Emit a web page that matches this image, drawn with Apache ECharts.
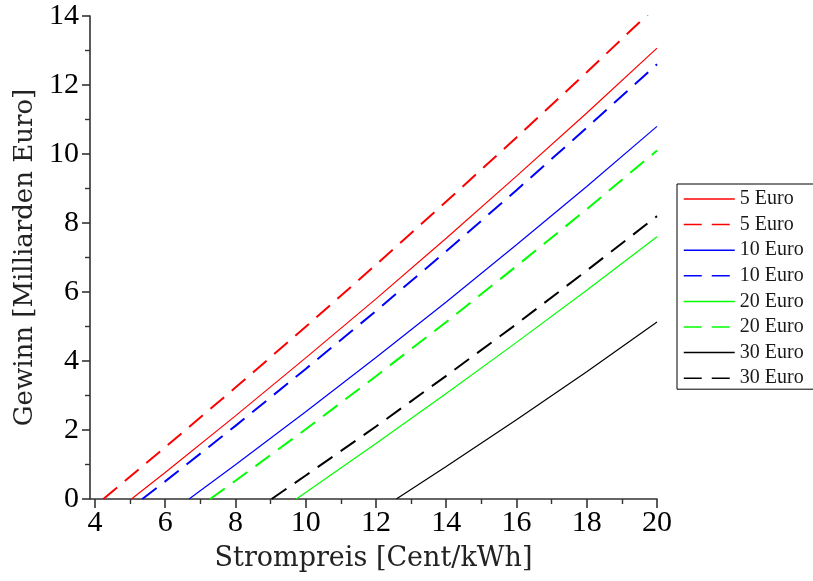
<!DOCTYPE html>
<html>
<head>
<meta charset="utf-8">
<script src="https://cdn.jsdelivr.net/npm/echarts@6/dist/echarts.min.js"></script>
<style>
html,body{margin:0;padding:0;background:#fff;}
#chart{width:813px;height:581px;}
</style>
</head>
<body>
<div id="chart"></div>
<script>
// Tick labels
const xTicks = [4, 6, 8, 10, 12, 14, 16, 18, 20];
const xMinorTicks = [5, 7, 9, 11, 13, 15, 17, 19];

// Series names (legend)
const seriesNames = ['5 Euro', '5 Euro ', '10 Euro', '10 Euro ', '20 Euro', '20 Euro ', '30 Euro', '30 Euro '];

// 5 Euro, solid
const price5a = [5.04, 6, 8, 10, 12, 14, 16, 18, 20];
const gain5a  = [0, 0.77, 2.41, 4.09, 5.80, 7.56, 9.36, 11.19, 13.07];
// 5 Euro, dashed
const price5b = [4.24, 6, 8, 10, 12, 14, 16, 18, 20];
const gain5b  = [0, 1.50, 3.23, 4.99, 6.79, 8.62, 10.48, 12.37, 14.3];
// 10 Euro, solid
const price10a = [6.68, 8, 10, 12, 14, 16, 18, 20];
const gain10a  = [0, 0.99, 2.53, 4.10, 5.71, 7.37, 9.06, 10.8];
// 10 Euro, dashed
const price10b = [5.35, 6, 8, 10, 12, 14, 16, 18, 20];
const gain10b  = [0, 0.51, 2.12, 3.77, 5.45, 7.18, 8.95, 10.76, 12.6];
// 20 Euro, solid
const price20a = [9.73, 10, 12, 14, 16, 18, 20];
const gain20a  = [0, 0.19, 1.61, 3.06, 4.54, 6.05, 7.6];
// 20 Euro, dashed
const price20b = [7.28, 8, 10, 12, 14, 16, 18, 20];
const gain20b  = [0, 0.53, 2.02, 3.56, 5.13, 6.75, 8.40, 10.1];
// 30 Euro, solid
const price30a = [12.58, 14, 16, 18, 20];
const gain30a  = [0, 0.94, 2.30, 3.69, 5.13];
// 30 Euro, dashed
const price30b = [9.03, 10, 12, 14, 16, 18, 20];
const gain30b  = [0, 0.68, 2.10, 3.57, 5.07, 6.62, 8.2];

function pairs(xs, ys) { return xs.map((x, i) => [x, ys[i]]); }

const seriesData = [
  pairs(price5a, gain5a), pairs(price5b, gain5b),
  pairs(price10a, gain10a), pairs(price10b, gain10b),
  pairs(price20a, gain20a), pairs(price20b, gain20b),
  pairs(price30a, gain30a), pairs(price30b, gain30b)
];
const colors = ['#ff0000', '#ff0000', '#0000ff', '#0000ff', '#00ff00', '#00ff00', '#000000', '#000000'];

const series = seriesData.map((d, i) => {
  const dashed = i % 2 === 1;
  return {
    name: seriesNames[i],
    type: 'line',
    data: d,
    showSymbol: false,
    symbol: 'none',
    smooth: false,
    clip: true,
    color: colors[i],
    lineStyle: {
      color: colors[i],
      width: dashed ? 2 : 1.2,
      type: dashed ? [18, 10] : 'solid'
    }
  };
});

const chart = echarts.init(document.getElementById('chart'), null, {renderer: 'canvas'});
chart.setOption({
  animation: false,
  backgroundColor: '#ffffff',
  grid: {left: 90, right: 156, top: 16, bottom: 82, containLabel: false},
  legend: {
    orient: 'vertical',
    left: 677,
    top: 184,
    data: seriesNames,
    itemWidth: 51,
    itemHeight: 14,
    itemGap: 5.6,
    padding: [5, 8, 1, 6],
    borderColor: '#000',
    borderWidth: 1,
    borderRadius: 0,
    backgroundColor: '#fff',
    itemStyle: {color: 'transparent', borderColor: 'transparent', borderWidth: 0, opacity: 0},
    lineStyle: {width: 1.5},
    textStyle: {fontFamily: 'Liberation Serif', fontSize: 20, lineHeight: 20, color: '#1a1a1a'}
  },
  xAxis: [{
    type: 'value',
    min: 3.86,
    max: 20,
    name: 'Strompreis [Cent/kWh]',
    nameLocation: 'middle',
    nameGap: 46,
    nameTextStyle: {fontFamily: 'DejaVu Serif', fontSize: 27, color: '#222'},
    axisLine: {show: true, onZero: false, lineStyle: {color: '#333', width: 1.6}},
    axisTick: {show: true, customValues: xTicks, length: 9, lineStyle: {color: '#333', width: 1.6}},
    axisLabel: {customValues: xTicks, fontFamily: 'Liberation Serif', fontSize: 30, color: '#000', margin: 9},
    splitLine: {show: false}
  }, {
    type: 'value',
    min: 3.86,
    max: 20,
    position: 'bottom',
    axisLine: {show: false},
    axisTick: {show: true, customValues: xMinorTicks, length: 5, lineStyle: {color: '#333', width: 1.4}},
    axisLabel: {show: false},
    splitLine: {show: false}
  }],
  yAxis: {
    type: 'value',
    min: 0,
    max: 14,
    interval: 2,
    name: 'Gewinn [Milliarden Euro]',
    nameLocation: 'middle',
    nameGap: 50,
    nameTextStyle: {fontFamily: 'DejaVu Serif', fontSize: 26, color: '#222'},
    axisLine: {show: true, lineStyle: {color: '#333', width: 1.6}},
    axisTick: {show: true, length: 8, lineStyle: {color: '#333', width: 1.6}},
    minorTick: {show: true, splitNumber: 2, length: 5, lineStyle: {color: '#333', width: 1.4}},
    axisLabel: {fontFamily: 'Liberation Serif', fontSize: 30, color: '#000', margin: 11},
    splitLine: {show: false}
  },
  series: series
});
</script>
</body>
</html>
